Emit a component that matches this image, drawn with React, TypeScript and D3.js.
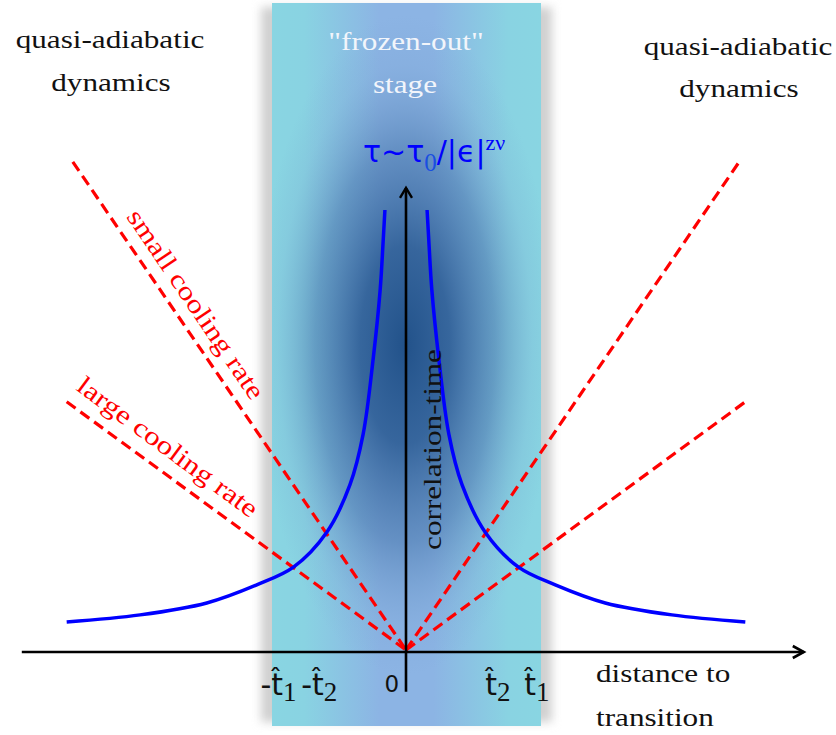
import React from "react";
import * as d3 from "d3";

// ---- data (schematic values) ----
const curveDistance = [6.2, 6.7, 7.6, 9.6, 12.6, 16.5, 23.3, 33.1, 43.9, 58.6, 78.2, 99.8];
const curveTau = [100, 93.2, 81.9, 66.7, 49.3, 37.8, 27.1, 19.2, 15.2, 11.1, 8.4, 6.8];

const rateLabels = ["small cooling rate", "large cooling rate"];
const rateEndDistance = [98, 99.8];
const rateEndTau = [110.9, 56.6];

const tickLabels = ["-t̂1", "-t̂2", "0", "t̂2", "t̂1"];
const tickPositions = [-37.5, -25.5, -4.2, 27, 38.5];

const xAxisExtent = [-113, 117];
const yAxisExtent = [-9, 105];

const W = 836;
const H = 735;

const xScale = d3.scaleLinear().domain([-100, 100]).range([66, 746]);
const yScale = d3.scaleLinear().domain([0, 100]).range([652, 210]);

const SERIF = "Liberation Serif";
const SANS = "DejaVu Sans";
const SX = 1.2; // horizontal stretch to mimic the wider Computer Modern glyphs

function labelTransform(px: number, py: number, ox: number, oy: number, along: number, perp: number) {
  const dx = ox - px;
  const dy = oy - py;
  const len = Math.hypot(dx, dy);
  const ux = dx / len;
  const uy = dy / len;
  const nx = uy;
  const ny = -ux;
  const x = px + ux * along + nx * perp;
  const y = py + uy * along + ny * perp;
  const ang = (Math.atan2(uy, ux) * 180) / Math.PI;
  return `translate(${x},${y}) rotate(${ang}) scale(${SX},1)`;
}

function SerifText(props: {
  x: number;
  y: number;
  anchor?: "start" | "middle" | "end";
  fill?: string;
  size?: number;
  children: React.ReactNode;
}) {
  const { x, y, anchor = "middle", fill = "#111", size = 26, children } = props;
  return (
    <text
      transform={`translate(${x},${y}) scale(${SX},1)`}
      textAnchor={anchor}
      fontFamily={SERIF}
      fontSize={size}
      fill={fill}
    >
      {children}
    </text>
  );
}

export default function App() {
  const line = d3
    .line<[number, number]>()
    .x((d) => xScale(d[0]))
    .y((d) => yScale(d[1]))
    .curve(d3.curveCatmullRom.alpha(0.5));

  const leftPts: [number, number][] = curveDistance
    .map((d, i) => [-d, curveTau[i]] as [number, number])
    .reverse();
  const rightPts: [number, number][] = curveDistance.map((d, i) => [d, curveTau[i]] as [number, number]);

  const ox = xScale(0);
  const oy = yScale(0);

  const labelAlong = [187, 108];
  const labelPerp = [13, 15];

  const band = { x0: 272, x1: 541, y0: 3, y1: 726 };

  const xa0 = xScale(xAxisExtent[0]);
  const xa1 = xScale(xAxisExtent[1]);
  const ya0 = yScale(yAxisExtent[0]);
  const ya1 = yScale(yAxisExtent[1]);

  return (
    <svg
      width={W}
      height={H}
      style={{ position: "absolute", left: 0, top: 0, display: "block", background: "#fff" }}
    >
      <defs>
        <filter id="blurShadow" x="-20%" y="-5%" width="140%" height="110%">
          <feGaussianBlur stdDeviation="5" />
        </filter>
        <linearGradient id="bandH" x1="0" y1="0" x2="1" y2="0">
          <stop offset="0%" stopColor="#89d5e2" />
          <stop offset="12%" stopColor="#89d3e2" />
          <stop offset="40%" stopColor="#8cb4e4" />
          <stop offset="60%" stopColor="#8cb4e4" />
          <stop offset="88%" stopColor="#89d3e2" />
          <stop offset="100%" stopColor="#89d5e2" />
        </linearGradient>
        <radialGradient
          id="bandR"
          gradientUnits="userSpaceOnUse"
          cx={405}
          cy={345}
          r={150}
          gradientTransform="translate(405,345) scale(1,2.2) translate(-405,-345)"
        >
          <stop offset="0%" stopColor="#22528a" stopOpacity={1} />
          <stop offset="30%" stopColor="#2d5d95" stopOpacity={0.9} />
          <stop offset="60%" stopColor="#4574aa" stopOpacity={0.55} />
          <stop offset="85%" stopColor="#6d98c8" stopOpacity={0.15} />
          <stop offset="100%" stopColor="#6d98c8" stopOpacity={0} />
        </radialGradient>
      </defs>

      {/* frozen-out band */}
      <rect
        x={band.x0 - 11}
        y={band.y0 + 4}
        width={band.x1 - band.x0 + 22}
        height={band.y1 - band.y0 - 8}
        fill="#d0d0d0"
        filter="url(#blurShadow)"
      />
      <rect x={band.x0} y={band.y0} width={band.x1 - band.x0} height={band.y1 - band.y0} fill="url(#bandH)" />
      <rect x={band.x0} y={band.y0} width={band.x1 - band.x0} height={band.y1 - band.y0} fill="url(#bandR)" />

      {/* red dashed cooling-rate lines */}
      {rateEndDistance.map((d, i) => (
        <g key={"r" + i}>
          <line
            x1={xScale(-d)}
            y1={yScale(rateEndTau[i])}
            x2={ox}
            y2={oy - 2}
            stroke="#ff0000"
            strokeWidth={3.2}
            strokeDasharray="11,6"
          />
          <line
            x1={ox}
            y1={oy - 2}
            x2={xScale(d)}
            y2={yScale(rateEndTau[i])}
            stroke="#ff0000"
            strokeWidth={3.2}
            strokeDasharray="11,6"
          />
        </g>
      ))}

      {/* blue correlation-time curves */}
      <path d={line(leftPts) || ""} fill="none" stroke="#0000ff" strokeWidth={3.5} />
      <path d={line(rightPts) || ""} fill="none" stroke="#0000ff" strokeWidth={3.5} />

      {/* axes */}
      <line x1={xa0} y1={oy} x2={xa1} y2={oy} stroke="#000" strokeWidth={2.6} />
      <path
        d={`M${xa1 - 11},${oy - 6} L${xa1},${oy} L${xa1 - 11},${oy + 6}`}
        fill="none"
        stroke="#000"
        strokeWidth={2.6}
      />
      <line x1={ox} y1={ya0} x2={ox} y2={ya1} stroke="#000" strokeWidth={2.6} />
      <path
        d={`M${ox - 6},${ya1 + 10} L${ox},${ya1} L${ox + 6},${ya1 + 10}`}
        fill="none"
        stroke="#000"
        strokeWidth={2.4}
      />

      {/* rate labels */}
      {rateLabels.map((lab, i) => (
        <text
          key={"l" + i}
          transform={labelTransform(
            xScale(-rateEndDistance[i]),
            yScale(rateEndTau[i]),
            ox,
            oy,
            labelAlong[i],
            labelPerp[i]
          )}
          textAnchor="middle"
          fontFamily={SERIF}
          fontSize={26}
          fill="#ff0000"
        >
          {lab}
        </text>
      ))}

      {/* correlation-time */}
      <text
        transform={`translate(441,449.5) rotate(-90) scale(${SX},1)`}
        textAnchor="middle"
        fontFamily={SERIF}
        fontSize={26}
        fill="#111"
      >
        correlation-time
      </text>

      {/* formula */}
      <text x={363} y={162} fontFamily={SANS} fontSize={30} fill="#0000ff">
        <tspan>τ~τ</tspan>
        <tspan fontFamily={SERIF} fontSize={25} dy={9} fill="#1a4fe0">
          0
        </tspan>
        <tspan dy={-9}>/|ϵ|</tspan>
        <tspan fontFamily={SERIF} fontSize={22} dy={-12}>
          zν
        </tspan>
      </text>

      {/* region labels */}
      <SerifText x={110} y={48}>quasi-adiabatic</SerifText>
      <SerifText x={111} y={91}>dynamics</SerifText>
      <SerifText x={738} y={55}>quasi-adiabatic</SerifText>
      <SerifText x={739} y={97}>dynamics</SerifText>
      <SerifText x={406} y={50} fill="#f2f5fb">
        "frozen-out"
      </SerifText>
      <SerifText x={405} y={93} fill="#f2f5fb">
        stage
      </SerifText>

      {/* x-axis label */}
      <SerifText x={596} y={682} anchor="start">
        distance to
      </SerifText>
      <SerifText x={596} y={726} anchor="start">
        transition
      </SerifText>

      {/* tick labels */}
      {tickLabels.map((lab, i) => {
        const x = xScale(tickPositions[i]);
        if (lab === "0") {
          return (
            <text key={"t" + i} x={x} y={692} textAnchor="middle" fontFamily={SANS} fontSize={23} fill="#111">
              0
            </text>
          );
        }
        const neg = lab.startsWith("-");
        const sub = lab.slice(-1);
        return (
          <text key={"t" + i} x={x} y={695} textAnchor="middle" fontFamily={SANS} fontSize={30} fill="#111">
            {neg ? <tspan>-</tspan> : null}
            <tspan>t̂</tspan>
            <tspan fontFamily={SERIF} fontSize={27} dy={6}>
              {sub}
            </tspan>
          </text>
        );
      })}
    </svg>
  );
}
